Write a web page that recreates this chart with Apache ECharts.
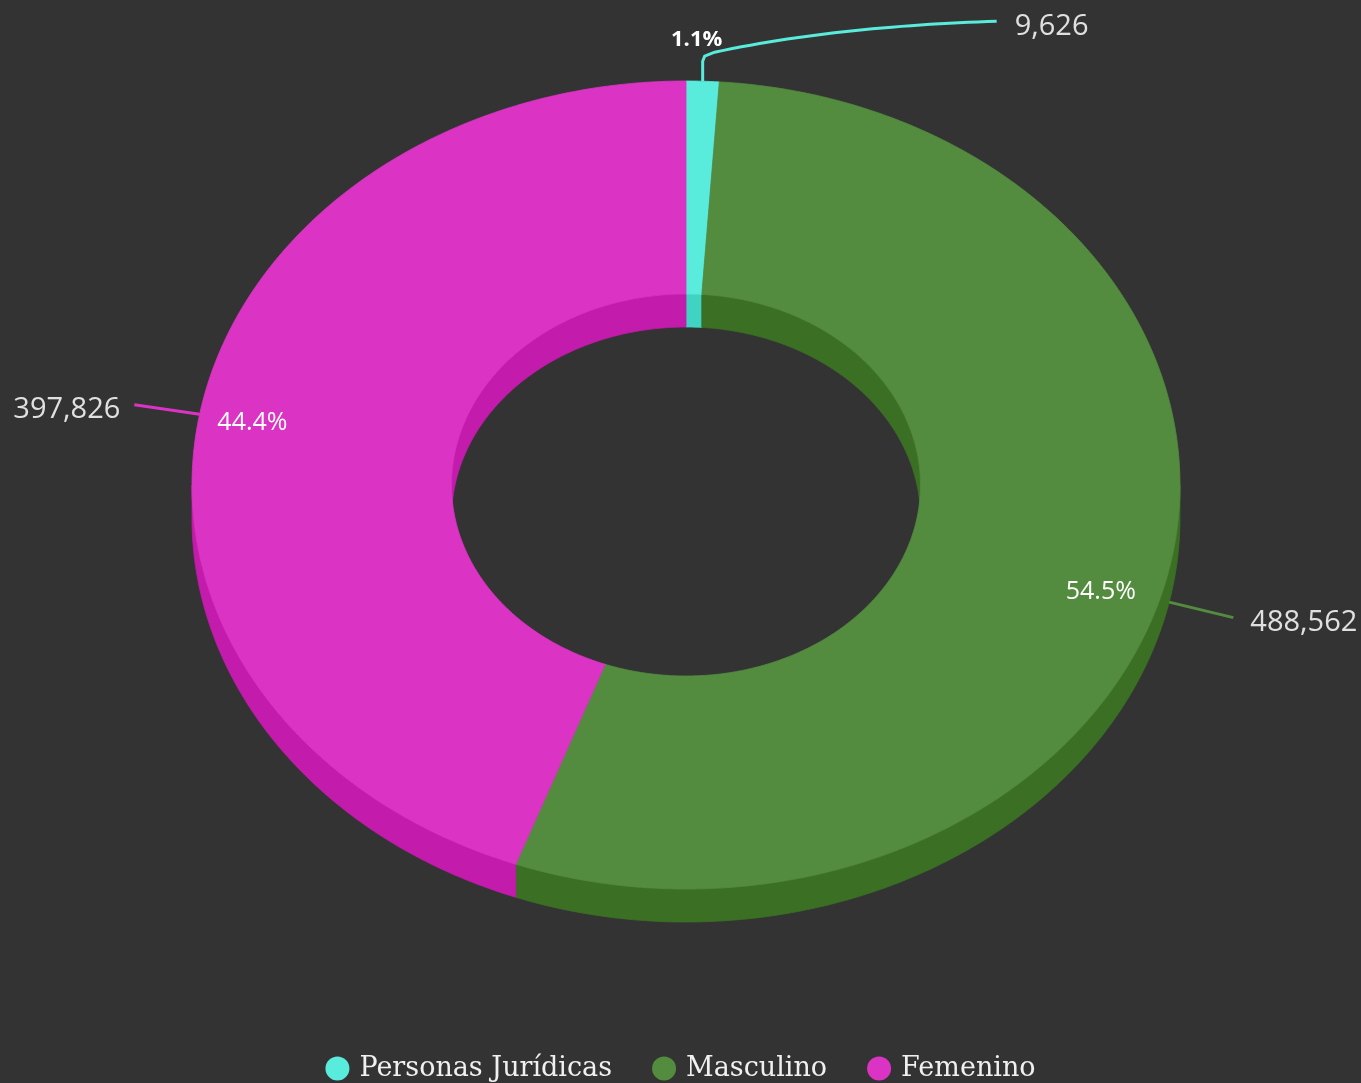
<!DOCTYPE html>
<html>
<head>
<meta charset="utf-8">
<script src="https://cdn.jsdelivr.net/npm/echarts@6/dist/echarts.min.js"></script>
<style>
  html, body { margin: 0; background: #333333; }
  #main { width: 1361px; height: 1083px; }
</style>
</head>
<body>
<div id="main"></div>
<script>
// datos
const categories = ['Personas Jurídicas', 'Masculino', 'Femenino'];
const values = [9626, 488562, 397826];
const colors = ['#59ebdb', '#538b3f', '#db33c3'];
const sideColors = ['#40d3c3', '#3b7024', '#c31bab'];

const total = values.reduce((a, b) => a + b, 0);

// geometria del donut "3d"
const cx = 686, cy = 485;
const RX = 494, RY = 404;   // borde exterior
const rX = 234.5, rY = 191; // borde interior
const depth = 33;
const TAU = Math.PI * 2;

function pt(a, b, ang, dy) {
  return [cx + a * Math.sin(ang), cy - b * Math.cos(ang) + (dy || 0)];
}
function arc(a, b, a0, a1, dy) {
  let n = Math.max(2, Math.ceil(Math.abs(a1 - a0) / 0.01));
  let pts = [];
  for (let k = 0; k <= n; k++) pts.push(pt(a, b, a0 + (a1 - a0) * k / n, dy));
  return pts;
}
function clip(a0, a1, ranges) {
  let out = [];
  ranges.forEach(r => {
    let s = Math.max(a0, r[0]), e = Math.min(a1, r[1]);
    if (e > s) out.push([s, e]);
  });
  return out;
}
function wall(a, b, seg) {
  let top = arc(a, b, seg[0], seg[1], 0);
  let bot = arc(a, b, seg[1], seg[0], depth);
  return top.concat(bot);
}

function renderItem(params, api) {
  const i = params.seriesIndex;
  let before = 0;
  for (let k = 0; k < i; k++) before += values[k];
  const val = api.value(0);
  const a0 = before / total * TAU;
  const a1 = (before + val) / total * TAU;
  const share = val / total;
  const children = [];

  // cara superior
  const topFace = arc(RX, RY, a0, a1).concat(arc(rX, rY, a1, a0));
  children.push({
    type: 'polygon', z2: 10,
    shape: { points: topFace },
    style: { fill: colors[i], stroke: colors[i], lineWidth: 0.8 }
  });
  // pared exterior (frente)
  clip(a0, a1, [[Math.PI / 2, Math.PI * 1.5]]).forEach(seg => {
    children.push({
      type: 'polygon', z2: 1,
      shape: { points: wall(RX, RY, seg) },
      style: { fill: sideColors[i], stroke: sideColors[i], lineWidth: 0.8 }
    });
  });
  // pared interior (fondo del hueco)
  clip(a0, a1, [[0, Math.PI / 2], [Math.PI * 1.5, TAU]]).forEach(seg => {
    children.push({
      type: 'polygon', z2: 1,
      shape: { points: wall(rX, rY, seg) },
      style: { fill: sideColors[i], stroke: sideColors[i], lineWidth: 0.8 }
    });
  });

  // etiquetas
  const mid = (a0 + a1) / 2;
  const front = Math.cos(mid) < 0;
  const anchor = pt(RX, RY, mid, front ? depth : 0);
  const pctText = (share * 100).toFixed(1) + '%';
  const valText = val.toLocaleString('en-US');
  const lineStyle = { stroke: colors[i], lineWidth: 3, fill: null };
  const valStyle = { fill: '#e0e0e0', fontSize: 29, fontFamily: '"Open Sans", sans-serif' };

  if (share >= 0.03) {
    let dx = anchor[0] - cx, dy = anchor[1] - cy;
    let len = Math.sqrt(dx * dx + dy * dy);
    let end = [anchor[0] + dx / len * 66, anchor[1] + dy / len * 66];
    let right = dx > 0;
    children.push({
      type: 'polyline', z2: 20,
      shape: { points: [anchor, end] },
      style: lineStyle
    });
    children.push({
      type: 'text', z2: 21,
      x: end[0] + (right ? 17 : -14), y: end[1] + 5,
      style: Object.assign({ text: valText, align: right ? 'left' : 'right', verticalAlign: 'middle' }, valStyle)
    });
    let inner = pt(RX * 0.875, RY * 0.875, mid, front ? depth : 0);
    children.push({
      type: 'text', z2: 21,
      x: inner[0] - 8, y: inner[1],
      style: {
        text: pctText, fill: '#ffffff', fontSize: 25, fontFamily: '"Open Sans", sans-serif',
        align: 'center', verticalAlign: 'middle'
      }
    });
  } else {
    // porción pequeña: conector hacia arriba y a la derecha
    let p0 = anchor, p1 = [anchor[0], anchor[1] - 20];
    let p2 = [anchor[0] + 12, anchor[1] - 29];
    let end = [anchor[0] + 294, anchor[1] - 60];
    let c1 = [anchor[0] + 100, anchor[1] - 48], c2 = [anchor[0] + 200, anchor[1] - 57];
    let pts = [p0, p1, [anchor[0] + 2, anchor[1] - 25], p2];
    for (let k = 1; k <= 30; k++) {
      let t = k / 30, u = 1 - t;
      pts.push([
        u * u * u * p2[0] + 3 * u * u * t * c1[0] + 3 * u * t * t * c2[0] + t * t * t * end[0],
        u * u * u * p2[1] + 3 * u * u * t * c1[1] + 3 * u * t * t * c2[1] + t * t * t * end[1]
      ]);
    }
    children.push({
      type: 'polyline', z2: 20,
      shape: { points: pts },
      style: lineStyle
    });
    children.push({
      type: 'text', z2: 21,
      x: end[0] + 18, y: end[1] + 6,
      style: Object.assign({ text: valText, align: 'left', verticalAlign: 'middle' }, valStyle)
    });
    children.push({
      type: 'text', z2: 21,
      x: anchor[0] - 6, y: anchor[1] - 41,
      style: {
        text: pctText, fill: '#ffffff', fontSize: 22, fontWeight: 'bold',
        fontFamily: '"Open Sans", sans-serif', align: 'center', verticalAlign: 'middle'
      }
    });
  }
  return { type: 'group', children: children };
}

const chart = echarts.init(document.getElementById('main'));
const option = {
  backgroundColor: '#333333',
  animation: false,
  legend: {
    data: categories,
    left: 'center',
    top: 1050,
    icon: 'circle',
    itemWidth: 24,
    itemHeight: 24,
    itemGap: 40,
    textStyle: {
      color: '#f0f0f0',
      fontSize: 27,
      fontFamily: '"DejaVu Serif", serif',
      padding: [0, 0, 0, 5]
    }
  },
  series: categories.map((name, i) => ({
    type: 'custom',
    name: name,
    coordinateSystem: 'none',
    data: [values[i]],
    itemStyle: { color: colors[i] },
    renderItem: renderItem
  }))
};
chart.setOption(option);
</script>
</body>
</html>
